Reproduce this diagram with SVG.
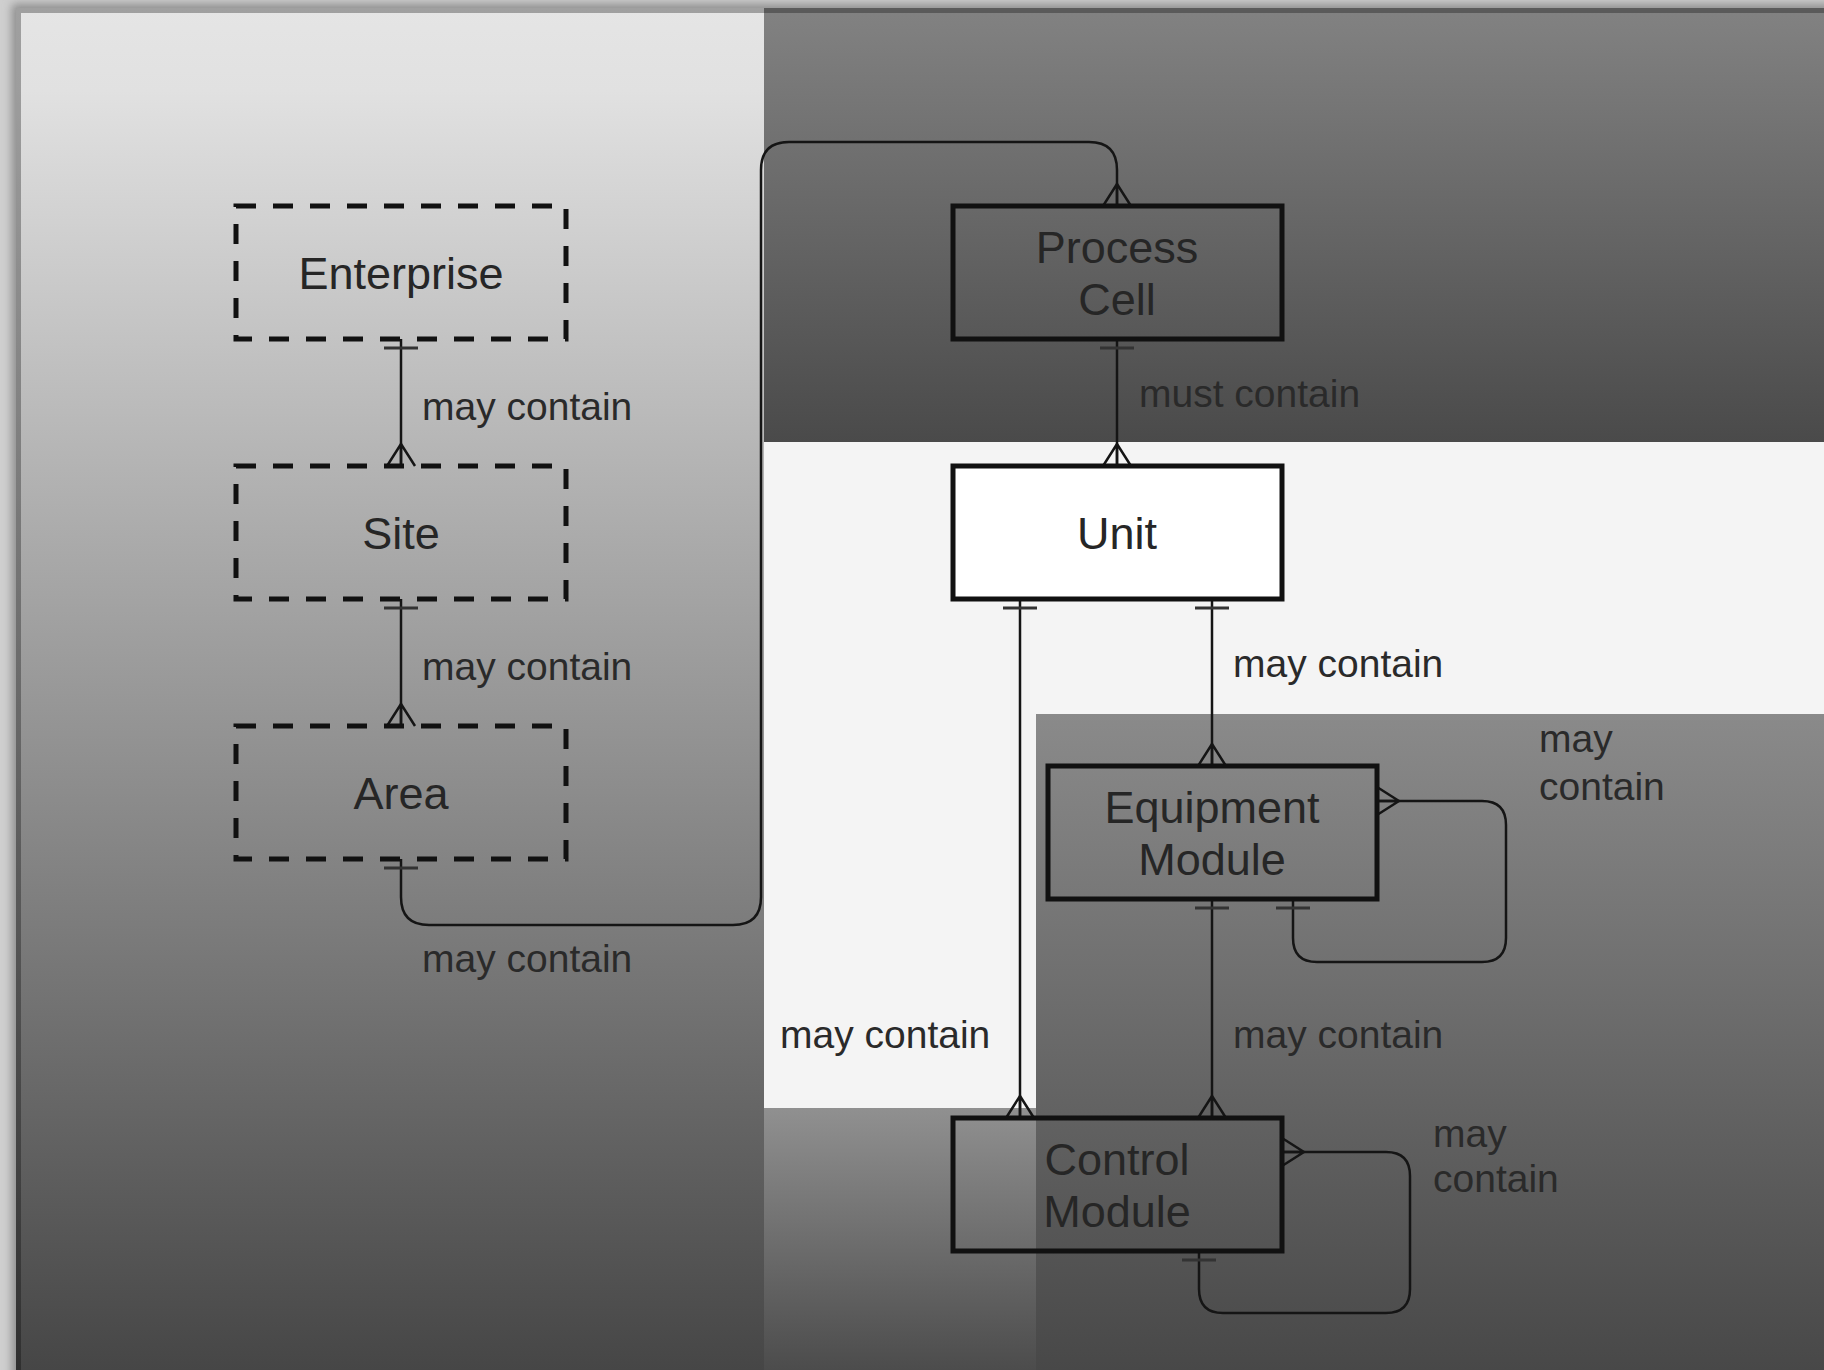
<svg xmlns="http://www.w3.org/2000/svg" width="1824" height="1370" viewBox="0 0 1824 1370">
  <defs>
    <linearGradient id="gLeft" x1="0" y1="0" x2="0" y2="1">
      <stop offset="0" stop-color="#e5e5e5"/>
      <stop offset="0.06" stop-color="#e1e1e1"/>
      <stop offset="1" stop-color="#464646"/>
    </linearGradient>
    <linearGradient id="gTop" x1="0" y1="0" x2="0" y2="1">
      <stop offset="0" stop-color="#828282"/>
      <stop offset="1" stop-color="#4a4a4a"/>
    </linearGradient>
    <linearGradient id="gLowRight" x1="0" y1="0" x2="0" y2="1">
      <stop offset="0" stop-color="#8a8a8a"/>
      <stop offset="1" stop-color="#484848"/>
    </linearGradient>
    <linearGradient id="gLowMid" x1="0" y1="0" x2="0" y2="1">
      <stop offset="0" stop-color="#909090"/>
      <stop offset="1" stop-color="#4c4c4c"/>
    </linearGradient>
    <filter id="shadow" x="-5%" y="-5%" width="110%" height="110%">
      <feGaussianBlur stdDeviation="5"/>
    </filter>
    <!-- mandatory-one bar, drawn just off the parent entity -->
    <marker id="one" markerUnits="userSpaceOnUse" orient="auto-start-reverse" refX="0" refY="0" markerWidth="40" markerHeight="40" overflow="visible">
      <path d="M-9,-17 V17" stroke="#333" stroke-width="3" fill="none"/>
    </marker>
    <!-- crow's foot (many) at the child entity -->
    <marker id="many" markerUnits="userSpaceOnUse" orient="auto" refX="0" refY="0" markerWidth="40" markerHeight="40" overflow="visible">
      <path d="M-22,0 L0,-14 M-22,0 L0,14 M-22,0 L0,0" stroke="#151515" stroke-width="2.5" fill="none"/>
    </marker>
    <style>
      .edge { fill: none; stroke: #151515; stroke-width: 2.5; marker-start: url(#one); marker-end: url(#many); }
      .dashed { fill: none; stroke: #111; stroke-width: 5; stroke-dasharray: 20 17; }
      .solid { fill: none; stroke: #111; stroke-width: 5; }
      .node { font-family: "Liberation Sans", Arial, sans-serif; font-size: 45px; fill: #262626; text-anchor: middle; }
      .lbl { font-family: "Liberation Sans", Arial, sans-serif; font-size: 39px; fill: #2a2a2a; }
    </style>
  </defs>

  <!-- frame and background bands -->
  <g id="background">
    <rect x="0" y="0" width="1824" height="1370" fill="#cfcfcf"/>
    <rect x="12" y="4" width="1830" height="1380" fill="#8c8c8c" filter="url(#shadow)"/>
    <rect x="16" y="8" width="748" height="1362" fill="url(#gLeft)"/>
    <rect x="764" y="8" width="1060" height="434" fill="url(#gTop)"/>
    <rect x="764" y="442" width="1060" height="666" fill="#f4f4f4"/>
    <rect x="1036" y="714" width="788" height="656" fill="url(#gLowRight)"/>
    <rect x="764" y="1108" width="272" height="262" fill="url(#gLowMid)"/>
    <path d="M18.5,1370 V10.5 H1824" fill="none" stroke="#000" stroke-opacity="0.3" stroke-width="5"/>
  </g>

  <!-- relationships -->
  <g id="connectors">
    <path class="edge" d="M401,339 V466"/>
    <path class="edge" d="M401,599 V726"/>
    <path class="edge" d="M401,859 V897 Q401,925 429,925 H733 Q761,925 761,897 V170 Q761,142 789,142 H1089 Q1117,142 1117,170 V206"/>
    <path class="edge" d="M1117,339 V466"/>
    <path class="edge" d="M1212,599 V766"/>
    <path class="edge" d="M1020,599 V1118"/>
    <path class="edge" d="M1212,899 V1118"/>
    <path class="edge" d="M1293,899 V938 Q1293,962 1317,962 H1482 Q1506,962 1506,938 V825 Q1506,801 1482,801 H1377"/>
    <path class="edge" d="M1199,1251 V1289 Q1199,1313 1223,1313 H1386 Q1410,1313 1410,1289 V1176 Q1410,1152 1386,1152 H1282"/>

    <text class="lbl" x="422" y="420">may contain</text>
    <text class="lbl" x="422" y="680">may contain</text>
    <text class="lbl" x="422" y="972">may contain</text>
    <text class="lbl" x="1139" y="407">must contain</text>
    <text class="lbl" x="1233" y="677">may contain</text>
    <text class="lbl" x="780" y="1048">may contain</text>
    <text class="lbl" x="1233" y="1048">may contain</text>
    <text class="lbl" x="1539" y="752">may</text>
    <text class="lbl" x="1539" y="800">contain</text>
    <text class="lbl" x="1433" y="1147">may</text>
    <text class="lbl" x="1433" y="1192">contain</text>
  </g>

  <!-- entities -->
  <g id="enterprise">
    <rect class="dashed" x="236" y="206" width="330" height="133"/>
    <text class="node" x="401" y="289">Enterprise</text>
  </g>
  <g id="site">
    <rect class="dashed" x="236" y="466" width="330" height="133"/>
    <text class="node" x="401" y="549">Site</text>
  </g>
  <g id="area">
    <rect class="dashed" x="236" y="726" width="330" height="133"/>
    <text class="node" x="401" y="809">Area</text>
  </g>
  <g id="process-cell">
    <rect class="solid" x="953" y="206" width="329" height="133"/>
    <text class="node" x="1117" y="263">Process</text>
    <text class="node" x="1117" y="315">Cell</text>
  </g>
  <g id="unit">
    <rect class="solid" x="953" y="466" width="329" height="133" fill="#fff" style="fill:#fff"/>
    <text class="node" x="1117" y="549">Unit</text>
  </g>
  <g id="equipment-module">
    <rect class="solid" x="1048" y="766" width="329" height="133"/>
    <text class="node" x="1212" y="823">Equipment</text>
    <text class="node" x="1212" y="875">Module</text>
  </g>
  <g id="control-module">
    <rect class="solid" x="953" y="1118" width="329" height="133"/>
    <text class="node" x="1117" y="1175">Control</text>
    <text class="node" x="1117" y="1227">Module</text>
  </g>
</svg>
